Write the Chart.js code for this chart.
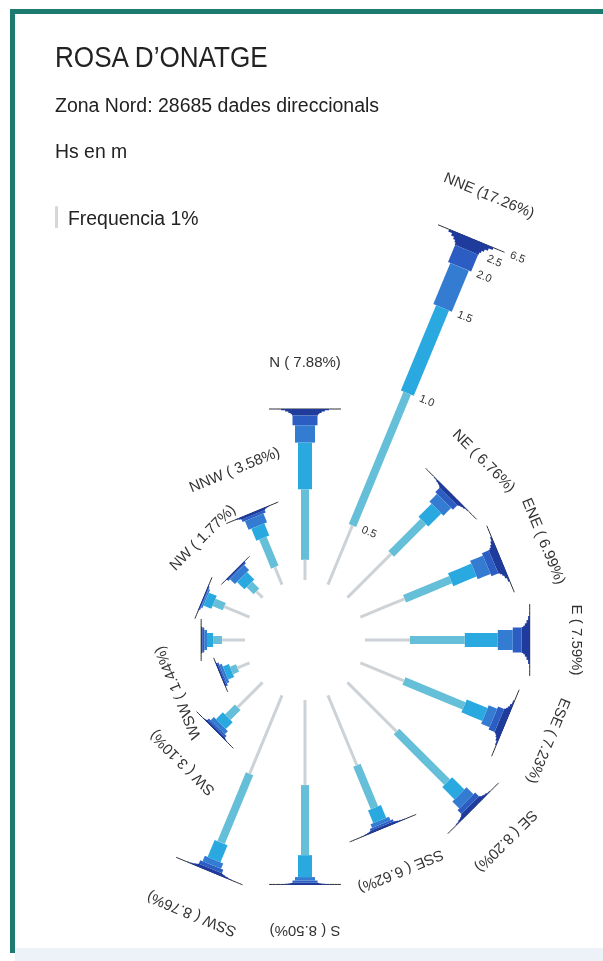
<!DOCTYPE html>
<html>
<head>
<meta charset="utf-8">
<title>Rosa d'onatge</title>
<script src="https://cdn.jsdelivr.net/npm/chart.js@4.4.1/dist/chart.umd.min.js"></script>
<style>
  body { margin: 0; background: #fff; font-family: "Liberation Sans", Arial, sans-serif; }
  #page { position: relative; width: 603px; height: 961px; overflow: hidden; background: #fff; }
  #frame { position: absolute; left: 10px; top: 9px; width: 640px; height: 939px;
           border-left: 5px solid #1d7b71; border-top: 5px solid #1d7b71; }
  #foot { position: absolute; left: 15px; top: 948px; width: 600px; height: 13px; background: #edf2f8; }
  #rose { position: absolute; left: 0; top: 0; }
  .txt { position: absolute; left: 55px; white-space: nowrap; color: #222; line-height: 1; transform-origin: 0 0; }
</style>
</head>
<body>
<div id="page">
  <div id="frame"></div>
  <div id="foot"></div>
  <canvas id="rose" width="603" height="961"></canvas>
  <div class="txt" style="top:42px; font-size:30px; transform:scaleX(0.87)">ROSA D’ONATGE</div>
  <div class="txt" style="top:95px; font-size:20px; transform:scaleX(0.975)">Zona Nord: 28685 dades direccionals</div>
  <div class="txt" style="top:141px; font-size:20px; transform:scaleX(0.97)">Hs en m</div>
  <div class="txt" style="top:208px; left:68px; font-size:20px; transform:scaleX(0.97)">Frequencia 1%</div>
</div>
<script>
// directions, clockwise from north
const directions = ['N', 'NNE', 'NE', 'ENE', 'E', 'ESE', 'SE', 'SSE', 'S', 'SSW', 'SW', 'WSW', 'W', 'WNW', 'NW', 'NNW'];
// total frequency per direction (%)
const totals = [7.88, 17.26, 6.76, 6.99, 7.59, 7.23, 8.20, 6.62, 8.50, 8.76, 3.10, 1.44, 2.02, 2.30, 1.77, 3.58];
// directions printed without a label in the original
const unlabelled = ['W', 'WNW'];
// Hs class limits (m)
const hsBounds = ['0.5', '1.0', '1.5', '2.0', '2.5', '6.5'];

// frequency (%) of each Hs class per direction, same order as directions
const freqHs00_05 = [0.93, 2.95, 2.85, 2.20, 2.07, 2.17, 3.20, 3.48, 3.92, 3.91, 1.62, 0.60, 1.06, 1.26, 0.40, 0.87];
const freqHs05_10 = [3.25, 6.60, 2.10, 2.30, 2.53, 3.00, 3.30, 2.12, 3.23, 3.43, 0.65, 0.30, 0.41, 0.51, 0.46, 1.45];
const freqHs10_15 = [2.15, 4.25, 0.85, 1.16, 1.52, 1.04, 0.80, 0.64, 1.01, 0.85, 0.45, 0.30, 0.28, 0.39, 0.48, 0.60];
const freqHs15_20 = [0.80, 2.05, 0.50, 0.64, 0.69, 0.42, 0.45, 0.18, 0.16, 0.27, 0.20, 0.12, 0.13, 0.07, 0.32, 0.44];
const freqHs20_25 = [0.45, 0.85, 0.28, 0.34, 0.41, 0.30, 0.25, 0.10, 0.10, 0.17, 0.10, 0.07, 0.08, 0.04, 0.06, 0.12];
const freqHs25_65 = [0.30, 0.56, 0.18, 0.35, 0.37, 0.30, 0.20, 0.10, 0.08, 0.13, 0.08, 0.05, 0.06, 0.03, 0.05, 0.10];

const classSeries = [freqHs00_05, freqHs05_10, freqHs10_15, freqHs15_20, freqHs20_25, freqHs25_65];
const classColors = ['#cdd2d7', '#66bfd8', '#2aa9e0', '#347cd2', '#2c5dc2', '#1f3b9c'];
const classWidths = [3, 8, 14, 20, 25];

// layout: pixels per 1 %, rose centre, empty hole in the middle
const PX = 21.7;
const CX = 305, CY = 640;
const HOLE = 60 / PX;
const W = 603, H = 961;

function polar(angleDeg, r) {
    const a = angleDeg * Math.PI / 180;
    return { x: r * Math.sin(a), y: r * Math.cos(a) };
}

// tension > 0 keeps Chart.js off its column-merging fast path,
// which would turn very short steep segments into vertical bars
function segment(angle, r0, r1, width, color) {
    return {
        data: [polar(angle, r0), polar(angle, r1)],
        showLine: true,
        tension: 0.001,
        borderColor: color,
        borderWidth: width,
        borderCapStyle: 'butt',
        pointRadius: 0,
        pointHoverRadius: 0,
        fill: false
    };
}

function fanWidth(d) {
    return Math.min(48, 16 + 6 * totals[d]);
}

const datasets = [];
directions.forEach(function(dir, d) {
    const angle = d * 22.5;
    let r = HOLE;
    for (let c = 0; c < 5; c++) {
        const v = classSeries[c][d];
        datasets.push(segment(angle, r, r + v, classWidths[c], classColors[c]));
        r += v;
    }
    // last class drawn as a flared fan: each step runs to the tip, wider ones on top
    const v = classSeries[5][d];
    const fw = fanWidth(d);
    const steps = 5;
    for (let s = 0; s < steps; s++) {
        const t = (s + 1) / steps;
        const w = classWidths[4] + (fw - classWidths[4]) * t * t;
        datasets.push(segment(angle, r + v * s / steps, r + v, w, classColors[5]));
    }
    r += v;
    // thin edge line across the tip
    const tip = polar(angle, r);
    const half = polar(angle + 90, fw * 0.75 / PX);
    const edge = segment(angle, 0, 0, 1, '#2a2e3a');
    edge.data = [{ x: tip.x - half.x, y: tip.y - half.y }, { x: tip.x + half.x, y: tip.y + half.y }];
    datasets.push(edge);
});

const roseLabels = {
    id: 'roseLabels',
    afterDatasetsDraw(chart) {
        const { ctx, scales: { x, y } } = chart;
        const toPx = p => [x.getPixelForValue(p.x), y.getPixelForValue(p.y)];
        ctx.save();
        ctx.fillStyle = '#333';
        ctx.textAlign = 'center';
        ctx.textBaseline = 'middle';

        // direction labels
        ctx.font = '15px "Liberation Sans", Arial, sans-serif';
        directions.forEach(function(dir, d) {
            if (unlabelled.includes(dir)) return;
            const angle = d * 22.5;
            const p = toPx(polar(angle, HOLE + totals[d] + 46 / PX));
            const pct = (totals[d] < 10 ? ' ' : '') + totals[d].toFixed(2);
            ctx.save();
            ctx.translate(p[0], p[1]);
            ctx.rotate(angle * Math.PI / 180);
            ctx.fillText(dir + ' (' + pct + '%)', 0, 0);
            ctx.restore();
        });

        // Hs limits along the longest direction
        const dMax = totals.indexOf(Math.max(...totals));
        const angle = dMax * 22.5;
        const fw = fanWidth(dMax);
        ctx.font = '11px "Liberation Sans", Arial, sans-serif';
        let r = HOLE;
        hsBounds.forEach(function(label, c) {
            r += classSeries[c][dMax];
            const off = c < 4 ? classWidths[c + 1] / 2 + 14 : (c === 4 ? 30 : fw * 0.75 + 14);
            const base = polar(angle, r);
            const side = polar(angle + 90, off / PX);
            const p = toPx({ x: base.x + side.x, y: base.y + side.y });
            ctx.save();
            ctx.translate(p[0], p[1]);
            ctx.rotate(angle * Math.PI / 180);
            ctx.fillText(label, 0, 0);
            ctx.restore();
        });

        // 1 % scale bar next to "Frequencia 1%"
        const onePct = y.getPixelForValue(0) - y.getPixelForValue(1);
        ctx.strokeStyle = '#d3d7db';
        ctx.lineWidth = 3;
        ctx.beginPath();
        ctx.moveTo(56.5, 228);
        ctx.lineTo(56.5, 228 - onePct);
        ctx.stroke();
        ctx.restore();
    }
};

new Chart(document.getElementById('rose'), {
    type: 'scatter',
    data: { datasets: datasets },
    options: {
        responsive: false,
        animation: false,
        events: [],
        layout: { padding: 0 },
        plugins: { legend: { display: false }, tooltip: { enabled: false } },
        scales: {
            x: { type: 'linear', display: false, bounds: 'data', min: -CX / PX, max: (W - CX) / PX },
            y: { type: 'linear', display: false, bounds: 'data', min: -(H - CY) / PX, max: CY / PX }
        }
    },
    plugins: [roseLabels]
});
</script>
</body>
</html>
